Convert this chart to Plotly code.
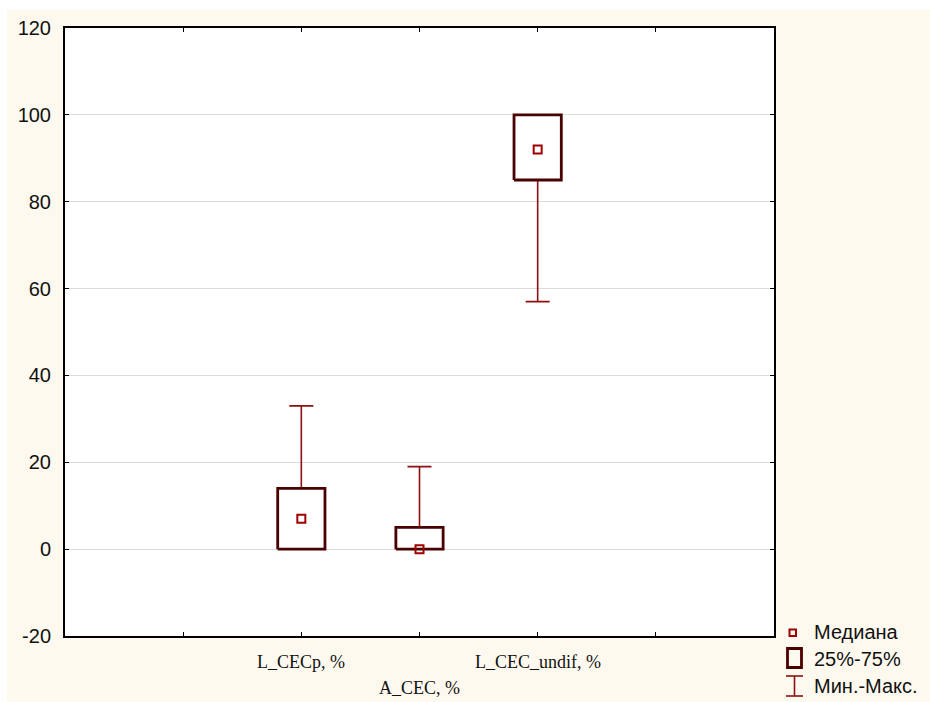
import plotly.graph_objects as go

# Summary statistics per variable
categories = ["L_CECp, %", "A_CEC, %", "L_CEC_undif, %"]
minimum = [0, 0, 57]
q1 = [0, 0, 85]
median = [7, 0, 92]
q3 = [14, 5, 100]
maximum = [33, 19, 100]

y_ticks = [-20, 0, 20, 40, 60, 80, 100, 120]
y_tick_labels = ["-20", "0", "20", "40", "60", "80", "100", "120"]

W, H = 930, 702
ML, MR, MT, MB = 65, 156, 28, 66

BOX_COLOR = "#4a0000"
WHISKER_COLOR = "#8b1010"
MEDIAN_COLOR = "#a00000"
PAPER = "#fef9ef"
SERIF = "Liberation Serif, Times New Roman"
SANS = "Liberation Sans, Arial"

# categories sit at x = 2, 3, 4 on a 0..6 axis with empty slots at 1 and 5
xpos = [i + 2 for i in range(len(categories))]
half_w = 0.2

fig = go.Figure()

# min-max whiskers as asymmetric error bars around the median
fig.add_trace(go.Scatter(
    x=xpos, y=median, mode="markers",
    marker=dict(size=1, color="rgba(0,0,0,0)"),
    error_y=dict(type="data", symmetric=False,
                 array=[mx - md for mx, md in zip(maximum, median)],
                 arrayminus=[md - mn for md, mn in zip(median, minimum)],
                 color=WHISKER_COLOR, thickness=1.6, width=12),
    showlegend=False, hoverinfo="skip",
))

# 25%-75% boxes
for x, lo, hi in zip(xpos, q1, q3):
    fig.add_trace(go.Scatter(
        x=[x - half_w, x + half_w, x + half_w, x - half_w, x - half_w],
        y=[lo, lo, hi, hi, lo],
        mode="lines", fill="toself", fillcolor="white",
        line=dict(color=BOX_COLOR, width=2.8),
        showlegend=False, hoverinfo="skip",
    ))

# medians
fig.add_trace(go.Scatter(
    x=xpos, y=median, mode="markers",
    marker=dict(symbol="square-open", size=8, color=MEDIAN_COLOR,
                line=dict(width=2, color=MEDIAN_COLOR)),
    showlegend=False, hoverinfo="skip",
))

pw = W - ML - MR
ph = H - MT - MB


def px_x(p):
    return (p - ML) / pw


def px_y(p):
    return (H - MB - p) / ph


shapes = [
    # white strips framing the cream page
    dict(type="rect", xref="paper", yref="paper", layer="below",
         x0=px_x(0), x1=px_x(W), y0=px_y(10), y1=px_y(0),
         fillcolor="white", line=dict(width=0)),
    dict(type="rect", xref="paper", yref="paper", layer="below",
         x0=px_x(0), x1=px_x(7), y0=px_y(H), y1=px_y(0),
         fillcolor="white", line=dict(width=0)),
    # legend symbols
    dict(type="rect", xref="paper", yref="paper",
         x0=px_x(789.5), x1=px_x(796), y0=px_y(636), y1=px_y(629.5),
         line=dict(color=MEDIAN_COLOR, width=2), fillcolor="rgba(0,0,0,0)"),
    dict(type="rect", xref="paper", yref="paper",
         x0=px_x(787.5), x1=px_x(801.5), y0=px_y(667.5), y1=px_y(648.5),
         line=dict(color=BOX_COLOR, width=2.8), fillcolor="rgba(0,0,0,0)"),
    dict(type="line", xref="paper", yref="paper",
         x0=px_x(794.5), x1=px_x(794.5), y0=px_y(696), y1=px_y(676),
         line=dict(color=WHISKER_COLOR, width=1.6)),
    dict(type="line", xref="paper", yref="paper",
         x0=px_x(786), x1=px_x(803), y0=px_y(676), y1=px_y(676),
         line=dict(color=WHISKER_COLOR, width=1.6)),
    dict(type="line", xref="paper", yref="paper",
         x0=px_x(786), x1=px_x(803), y0=px_y(696), y1=px_y(696),
         line=dict(color=WHISKER_COLOR, width=1.6)),
]

legend_items = [("Медиана", 632), ("25%-75%", 659), ("Мин.-Макс.", 686)]
annotations = [
    dict(text=t, xref="paper", yref="paper", x=px_x(812), y=px_y(yc),
         xanchor="left", yanchor="middle", showarrow=False,
         font=dict(family=SANS, size=20, color="#111111"))
    for t, yc in legend_items
]

# category labels, staggered over two rows
for i, (x, name) in enumerate(zip(xpos, categories)):
    row_y = 662 if i % 2 == 0 else 688
    annotations.append(dict(
        text=name, xref="x", yref="paper", x=x, y=px_y(row_y),
        xanchor="center", yanchor="middle", showarrow=False,
        font=dict(family=SERIF, size=18, color="#111111")))

fig.update_layout(
    width=W, height=H,
    margin=dict(l=ML, r=MR, t=MT, b=MB, pad=0),
    paper_bgcolor=PAPER, plot_bgcolor="white",
    shapes=shapes, annotations=annotations,
    showlegend=False,
    xaxis=dict(range=[0, 6], tickvals=[1, 2, 3, 4, 5], showticklabels=False,
               showgrid=False, zeroline=False, automargin=False,
               showline=True, linecolor="black", linewidth=2, mirror="ticks",
               ticks="inside", ticklen=4, tickcolor="black", tickwidth=1),
    yaxis=dict(range=[-20, 120], tickvals=y_ticks, ticktext=y_tick_labels,
               showgrid=True, gridcolor="#dcdcdc", gridwidth=1, zeroline=False,
               automargin=False,
               showline=True, linecolor="black", linewidth=2, mirror="ticks",
               ticks="inside", ticklen=4, tickcolor="black", tickwidth=1,
               tickfont=dict(family=SANS, size=20, color="#111111"),
               ticklabelstandoff=8),
)

fig.write_html("out.html")
